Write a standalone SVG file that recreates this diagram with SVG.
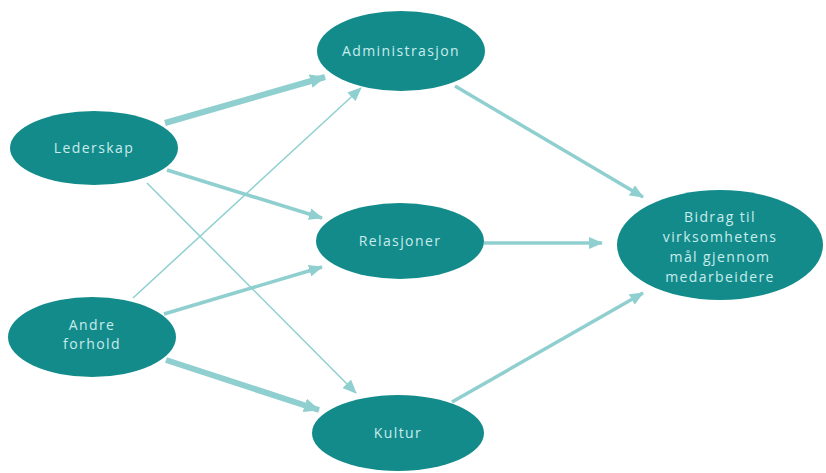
<svg xmlns="http://www.w3.org/2000/svg" width="826" height="473" viewBox="0 0 826 473">
<defs>
<style>
.node ellipse{fill:#138b8b;}
.node text{fill:#c9ecec;font-family:"Open Sans","Liberation Sans",sans-serif;font-size:14px;letter-spacing:1.4px;text-anchor:middle;}
.edge{stroke:#8fcfcf;fill:none;stroke-linecap:butt;}
.thick{stroke-width:6;}
.med{stroke-width:3.5;}
.thin{stroke-width:1.5;}
</style>
<marker id="ah" viewBox="0 0 14 12" refX="13" refY="6" markerWidth="14" markerHeight="12" markerUnits="userSpaceOnUse" orient="auto">
<path d="M0,0 L14,6 L0,12 Z" fill="#8fcfcf"/>
</marker>
<marker id="ahb" viewBox="0 0 16 14" refX="15" refY="7" markerWidth="16" markerHeight="14" markerUnits="userSpaceOnUse" orient="auto">
<path d="M0,0 L16,7 L0,14 Z" fill="#8fcfcf"/>
</marker>
</defs>
<rect width="826" height="473" fill="#ffffff"/>
<g id="connectors">
<line class="edge thick" x1="165" y1="123" x2="325" y2="77" marker-end="url(#ahb)"/>
<line class="edge thin" x1="133" y1="298" x2="361" y2="88" marker-end="url(#ah)"/>
<line class="edge med" x1="167" y1="170" x2="322" y2="218" marker-end="url(#ah)"/>
<line class="edge thin" x1="147" y1="183" x2="356" y2="393" marker-end="url(#ah)"/>
<line class="edge med" x1="164" y1="314" x2="322" y2="267" marker-end="url(#ah)"/>
<line class="edge thick" x1="166" y1="360" x2="319" y2="410" marker-end="url(#ahb)"/>
<line class="edge med" x1="455" y1="86" x2="643" y2="197" marker-end="url(#ah)"/>
<line class="edge med" x1="484" y1="243" x2="602" y2="243" marker-end="url(#ah)"/>
<line class="edge med" x1="452" y1="402" x2="643" y2="293" marker-end="url(#ah)"/>
</g>
<g id="lederskap" class="node">
<ellipse cx="94" cy="148" rx="84" ry="37"/>
<text x="94" y="153">Lederskap</text>
</g>
<g id="andre-forhold" class="node">
<ellipse cx="92" cy="337" rx="84" ry="40"/>
<text x="92" y="330">Andre</text>
<text x="92" y="349">forhold</text>
</g>
<g id="administrasjon" class="node">
<ellipse cx="401" cy="51" rx="84" ry="40"/>
<text x="401" y="56">Administrasjon</text>
</g>
<g id="relasjoner" class="node">
<ellipse cx="400" cy="241" rx="84" ry="38"/>
<text x="400" y="246">Relasjoner</text>
</g>
<g id="kultur" class="node">
<ellipse cx="398" cy="433" rx="86" ry="38"/>
<text x="398" y="438">Kultur</text>
</g>
<g id="bidrag" class="node">
<ellipse cx="720" cy="245" rx="103" ry="55"/>
<text x="720" y="222">Bidrag til</text>
<text x="720" y="242">virksomhetens</text>
<text x="720" y="262">mål gjennom</text>
<text x="720" y="282">medarbeidere</text>
</g>
</svg>
